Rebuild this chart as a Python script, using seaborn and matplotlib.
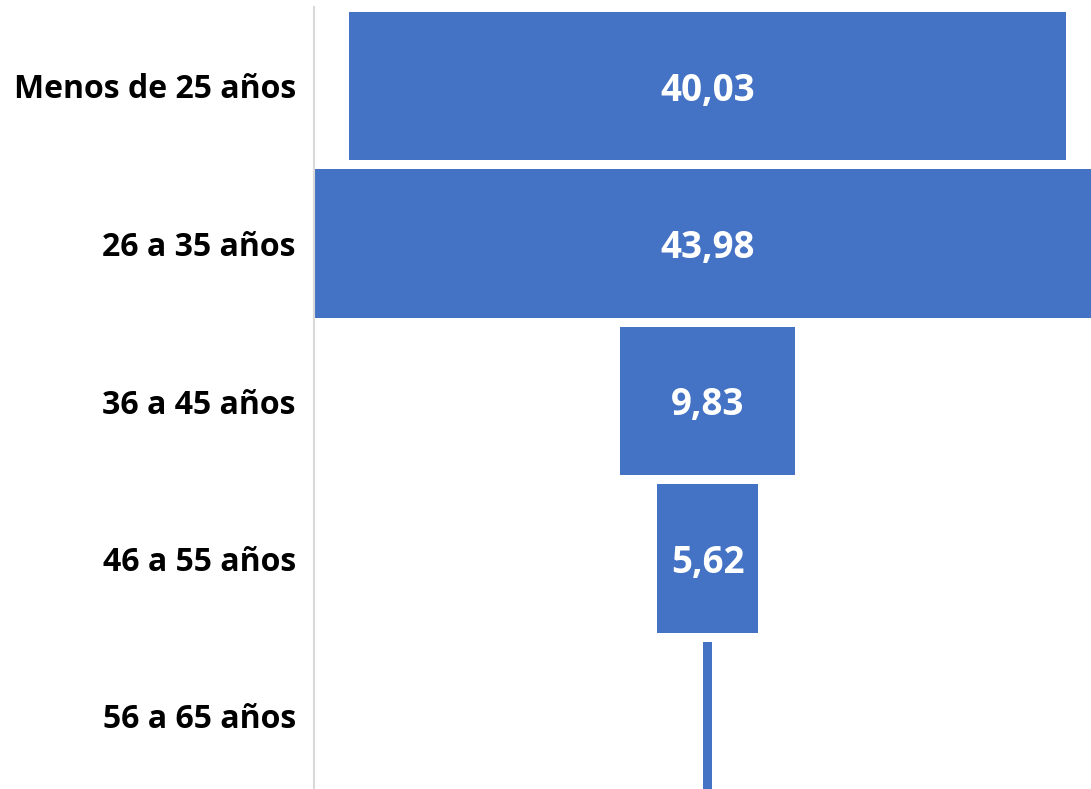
import matplotlib
matplotlib.use("Agg")
import matplotlib.pyplot as plt
import seaborn as sns
import pandas as pd

categories = ["Menos de 25 años", "26 a 35 años", "36 a 45 años", "46 a 55 años", "56 a 65 años"]
values = [40.03, 43.98, 9.83, 5.62, 0.54]
labels = ["40,03", "43,98", "9,83", "5,62", ""]

sns.set_theme(style="white")
plt.rcParams["font.family"] = ["Open Sans", "DejaVu Sans"]

df = pd.DataFrame({"cat": categories, "val": values})

W, H = 1091, 789
fig = plt.figure(figsize=(W / 100, H / 100), dpi=100)
ax_left, ax_w = 314 / W, 787 / W
ax_top, ax_bot = 7.25, 794.75
ax = fig.add_axes([ax_left, (H - ax_bot) / H, ax_w, (ax_bot - ax_top) / H])

sns.barplot(data=df, x="val", y="cat", orient="h", color="#4472C4",
            saturation=1, width=0.94, ax=ax)

vmax = max(values)
center = vmax / 2
for p, v, lab in zip(ax.patches, values, labels):
    p.set_x(center - v / 2)
    p.set_edgecolor("none")
    if lab:
        ax.text(center, p.get_y() + p.get_height() / 2, lab, ha="center",
                va="center_baseline", color="white", fontsize=26.5, fontweight="bold")

ax.set_xlim(0, vmax)
ax.set_ylim(4.5, -0.5)
ax.set_xlabel("")
ax.set_ylabel("")
ax.set_xticks([])
for s in ["top", "right", "bottom"]:
    ax.spines[s].set_visible(False)
ax.spines["left"].set_color("#d9d9d9")
ax.spines["left"].set_linewidth(1.5)
ax.tick_params(axis="y", length=0, pad=13)
for t in ax.get_yticklabels():
    t.set_fontsize(23)
    t.set_fontweight("bold")
    t.set_color("black")

fig.savefig("out.png", dpi=100)
